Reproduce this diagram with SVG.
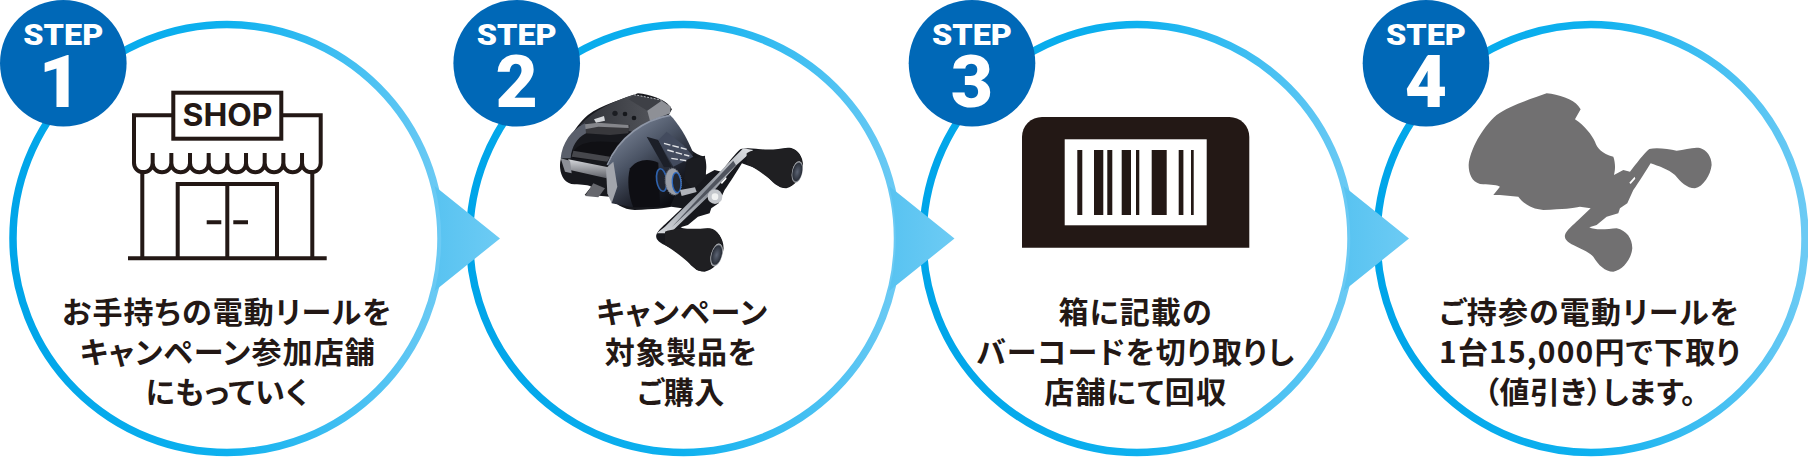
<svg xmlns="http://www.w3.org/2000/svg" width="1808" height="458" viewBox="0 0 1808 458">
<style>
.ring{fill:#fff;stroke:url(#ringGrad);stroke-width:7.5}
.badge{fill:#0068b7}
.step{font:900 29.5px Roboto,"Liberation Sans",sans-serif;fill:#fff;text-anchor:middle}
.num{font:900 73px Roboto,"Liberation Sans",sans-serif;fill:#fff;text-anchor:middle}
.cap{font:700 30px "Noto Sans CJK JP","Noto Sans",sans-serif;fill:#231815;text-anchor:middle;font-feature-settings:"palt"}
.line{fill:none;stroke:#231815;stroke-width:4}
.ink{fill:#231815}
</style>
<defs>
<linearGradient id="ringGrad" x1="0" y1="0" x2="1" y2="0">
<stop offset="0" stop-color="#00a5e9"/><stop offset=".5" stop-color="#0eb1ef"/><stop offset="1" stop-color="#6ccaf4"/>
</linearGradient>
<linearGradient id="arrowGrad" x1="0" y1="0" x2="1" y2="0">
<stop offset="0" stop-color="#58c3f1"/><stop offset="1" stop-color="#6dcbf4"/>
</linearGradient>
<linearGradient id="sideGrad" x1=".15" y1=".1" x2=".75" y2=".95">
<stop offset="0" stop-color="#7a8496"/><stop offset=".4" stop-color="#4a5364"/><stop offset=".75" stop-color="#1e212b"/><stop offset="1" stop-color="#0c0d12"/>
</linearGradient>
<linearGradient id="armGrad" x1="0" y1="1" x2="1" y2="0">
<stop offset="0" stop-color="#d5d8dc"/><stop offset=".5" stop-color="#8b9099"/><stop offset="1" stop-color="#e2e4e7"/>
</linearGradient>
<linearGradient id="bandGrad" x1="0" y1="0" x2="0" y2="1">
<stop offset="0" stop-color="#d4d6da"/><stop offset="1" stop-color="#5f6168"/>
</linearGradient>
<linearGradient id="topGrad" x1="0" y1="0" x2="1" y2="0">
<stop offset="0" stop-color="#2f3137"/><stop offset="1" stop-color="#5a5c62"/>
</linearGradient>
<radialGradient id="capGrad">
<stop offset="0" stop-color="#5c6474"/><stop offset=".8" stop-color="#2b303a"/><stop offset="1" stop-color="#d3d6da"/>
</radialGradient>
<path id="reelShape" fill-rule="evenodd" d="M620 280C655 283 700 298 715 318L722 328L705 358C735 378 755 405 765 425C772 445 785 460 820 470C827 490 826 510 822 525L850 510L870 515C890 490 910 462 928 447C950 441 985 447 1010 452C1035 450 1060 440 1080 444C1100 450 1115 470 1115 495C1112 525 1090 560 1065 565C1040 565 1022 545 1005 525C985 508 955 498 932 490C920 510 895 550 880 570L862 610L840 625L835 640L800 650L770 675L748 682C765 692 805 687 830 685C860 692 877 715 877 745C875 775 850 810 820 815C795 815 775 795 760 770C745 755 720 745 700 735C685 728 672 718 675 705C680 690 700 675 715 660L752 625L720 620C700 625 670 627 610 630C575 628 550 610 535 590L480 585H460L480 560C465 552 445 555 420 552C395 545 386 520 386 495C390 450 425 385 470 345C510 315 580 295 620 280ZM884 530L868 548L872 552L886 536Z"/>
</defs>

<g id="step1">
<circle class="ring" cx="227" cy="238.5" r="214"/>
<circle class="badge" cx="63.3" cy="63.3" r="63.3"/>
<text class="step" x="63.3" y="45" textLength="80" lengthAdjust="spacingAndGlyphs">STEP</text>
<text class="num" x="60" y="107">1</text>
<g id="shop-icon">
<rect class="line" x="173.3" y="92.7" width="108" height="46"/>
<text x="227.5" y="126" font-family="Inter,'Liberation Sans',sans-serif" font-weight="700" font-size="31" class="ink" text-anchor="middle" textLength="90" lengthAdjust="spacingAndGlyphs">SHOP</text>
<path class="line" d="M173.3 115.3H134V163a9.33 9.33 0 0 0 18.67 0V153V163a9.33 9.33 0 0 0 18.67 0V153V163a9.33 9.33 0 0 0 18.67 0V153V163a9.33 9.33 0 0 0 18.67 0V153V163a9.33 9.33 0 0 0 18.67 0V153V163a9.33 9.33 0 0 0 18.67 0V153V163a9.33 9.33 0 0 0 18.67 0V153V163a9.33 9.33 0 0 0 18.67 0V153V163a9.33 9.33 0 0 0 18.67 0V153V163a9.33 9.33 0 0 0 18.67 0V115.3H281.3"/>
<path class="line" d="M142.3 170V258M312.3 170V258M128 258.3H326.7M177.7 258V184H277V258M227.3 184V258M206.7 222.3H221.3M233.3 222.3H248"/>
</g>
<text class="cap" x="226.7" y="322.5" textLength="329">お手持ちの電動リールを</text>
<text class="cap" x="227.3" y="362.5" textLength="295">キャンペーン参加店舗</text>
<text class="cap" x="226.7" y="403" textLength="162">にもっていく</text>
</g>

<g id="step2">
<circle class="ring" cx="683.5" cy="238.5" r="214"/>
<circle class="badge" cx="516.7" cy="63.3" r="63.3"/>
<text class="step" x="516.7" y="45" textLength="80" lengthAdjust="spacingAndGlyphs">STEP</text>
<text class="num" x="516.7" y="107">2</text>
<g id="reel-photo">
<use href="#reelShape" transform="translate(431.3 0) scale(.3333)" fill="#17181d"/>
<g transform="translate(530 90) scale(.3333)">
<path d="M150 105C190 60 260 30 310 14L395 30L422 50L420 70L360 95L330 130L230 110Z" fill="url(#topGrad)"/>
<path d="M296 28L312 14L395 32L352 62Z" fill="#3e4046"/>
<path d="M395 32L422 50L420 70L360 92L352 62Z" fill="#8e9096"/>
<path d="M312 14L395 30" stroke="#b9bbbf" stroke-width="3" stroke-dasharray="6 4"/>
<circle cx="255" cy="70" r="8" fill="#1b1d22"/><circle cx="285" cy="72" r="7" fill="#16181c"/><circle cx="312" cy="84" r="7" fill="#16181c"/>
<path d="M192 88L222 78L225 92L198 98Z" fill="#d6d8db"/>
<path d="M160 105L205 98L300 105L295 130L240 135L165 130Z" fill="#38383c"/>
<path d="M165 103L205 98L295 105L296 114L205 110L165 118Z" fill="#85868b"/>
<path d="M92 205C96 160 125 118 165 100L168 130C140 145 125 170 122 205Z" fill="#5a5f6b"/>
<path d="M125 190C150 150 200 150 285 160L240 215L130 205Z" fill="#101014"/>
<path d="M130 182L240 200L232 215L125 200Z" fill="#46474c"/>
<path d="M115 208L235 232L230 265L120 240Z" fill="url(#bandGrad)"/>
<path d="M92 205L120 212L125 250L105 245Z" fill="#8c8f97"/>
<path d="M165 318L190 280L225 295L205 322Z" fill="#66676d"/>
<path d="M235 225C270 140 350 85 420 75C445 100 470 140 490 190L470 240L420 350L300 350L245 340Z" fill="url(#sideGrad)"/>
<path d="M232 225C268 140 345 88 420 76" fill="none" stroke="#8e96a6" stroke-width="5"/>
<path d="M228 235L250 215L262 290L245 340L232 310Z" fill="#a2a5ac"/>
<path d="M300 235C320 208 355 203 385 218L390 350L310 352C296 320 290 270 300 235Z" fill="#0e0e13"/>
<path d="M350 140L385 150L425 230L402 232Z" fill="#1c1f28"/>
<path d="M385 150L410 125L460 165L490 200L430 230Z" fill="#434b5e"/>
<path d="M402 160L470 178M412 180L478 198M424 205L480 214" fill="none" stroke="#e3e5e8" stroke-width="4" stroke-dasharray="20 6"/>
<path d="M470 210L525 197L528 260L490 300L462 265Z" fill="#1b1c21"/>
<ellipse cx="395" cy="270" rx="15" ry="34" transform="rotate(-8 395 270)" fill="#20242f" stroke="#2f62ad" stroke-width="5"/>
<ellipse cx="430" cy="275" rx="24" ry="40" transform="rotate(-6 430 275)" fill="#9a9ea7" stroke="#70747d" stroke-width="4" stroke-dasharray="3 3"/>
<ellipse cx="440" cy="278" rx="13" ry="30" transform="rotate(-4 440 278)" fill="#23262e" stroke="#2f6ac0" stroke-width="4"/>
<path d="M450 300L495 292L500 306L455 318Z" fill="#b0b3b9"/>
<path d="M380 430L405 410L640 175L670 180L620 225L545 310L420 430Z" fill="url(#armGrad)"/>
<path d="M425 412L610 212L618 226L545 298Z" fill="#50545e"/>
<circle cx="555" cy="320" r="22" fill="#c4c7cc"/><circle cx="555" cy="320" r="10" fill="#f0f1f1"/>
<path d="M650 190C680 170 730 185 770 175C800 170 820 200 818 235C815 275 780 300 750 290C720 270 690 240 650 222Z" fill="#1f1f22"/>
<ellipse cx="802" cy="246" rx="16" ry="33" transform="rotate(12 802 246)" fill="url(#capGrad)"/>
<path d="M405 425C440 410 500 420 540 415C570 420 585 460 575 495C560 530 525 550 500 540C470 510 430 480 405 465Z" fill="#1f1f22"/>
<ellipse cx="560" cy="495" rx="17" ry="35" transform="rotate(15 560 495)" fill="url(#capGrad)"/>
</g>
</g>
<text class="cap" x="681.7" y="322.5" textLength="171">キャンペーン</text>
<text class="cap" x="680.7" y="362.5" textLength="152">対象製品を</text>
<text class="cap" x="680.8" y="403" textLength="87">ご購入</text>
</g>

<g id="step3">
<circle class="ring" cx="1137" cy="238.5" r="214"/>
<circle class="badge" cx="972" cy="63.3" r="63.3"/>
<text class="step" x="972" y="45" textLength="80" lengthAdjust="spacingAndGlyphs">STEP</text>
<text class="num" x="972" y="107">3</text>
<g id="barcode">
<path class="ink" d="M1022 247.7V137a20 20 0 0 1 20-20H1229.3a20 20 0 0 1 20 20V247.7Z"/>
<rect x="1064.7" y="139.3" width="142" height="86" fill="#fff"/>
<path class="ink" d="M1077.3 150h5v65h-5ZM1094 150h9.3v65h-9.3ZM1107.3 150h5v65h-5ZM1121.7 150h9.3v65h-9.3ZM1136 150h3.3v65h-3.3ZM1151.7 150h15v65h-15ZM1178.7 150h4.7v65h-4.7ZM1191 150h2.7v65h-2.7Z"/>
</g>
<text class="cap" x="1135" y="322.5" textLength="153">箱に記載の</text>
<text class="cap" x="1135.3" y="362.5" textLength="318">バーコードを切り取りし</text>
<text class="cap" x="1135.2" y="403" textLength="182">店舗にて回収</text>
</g>

<g id="step4">
<circle class="ring" cx="1591" cy="238.5" r="214"/>
<circle class="badge" cx="1426" cy="63.3" r="63.3"/>
<text class="step" x="1426" y="45" textLength="80" lengthAdjust="spacingAndGlyphs">STEP</text>
<text class="num" x="1426" y="107">4</text>
<use id="reel-silhouette" href="#reelShape" transform="translate(1340 0) scale(.3333)" fill="#717071"/>
<text class="cap" x="1589" y="322.5" textLength="299">ご持参の電動リールを</text>
<text class="cap" x="1589.5" y="362.5" textLength="301">1台15,000円で下取り</text>
<text class="cap" x="1590" y="403" textLength="212">（値引き）します。</text>
</g>

<g id="connectors">
<path id="arrow1" fill="url(#arrowGrad)" d="M434.6 186A214 214 0 0 1 434.6 291L500 238.5Z"/>
<path id="arrow2" fill="url(#arrowGrad)" d="M889.1 186A214 214 0 0 1 889.1 291L954.5 238.5Z"/>
<path id="arrow3" fill="url(#arrowGrad)" d="M1343.6 186A214 214 0 0 1 1343.6 291L1409 238.5Z"/>
</g>
</svg>
